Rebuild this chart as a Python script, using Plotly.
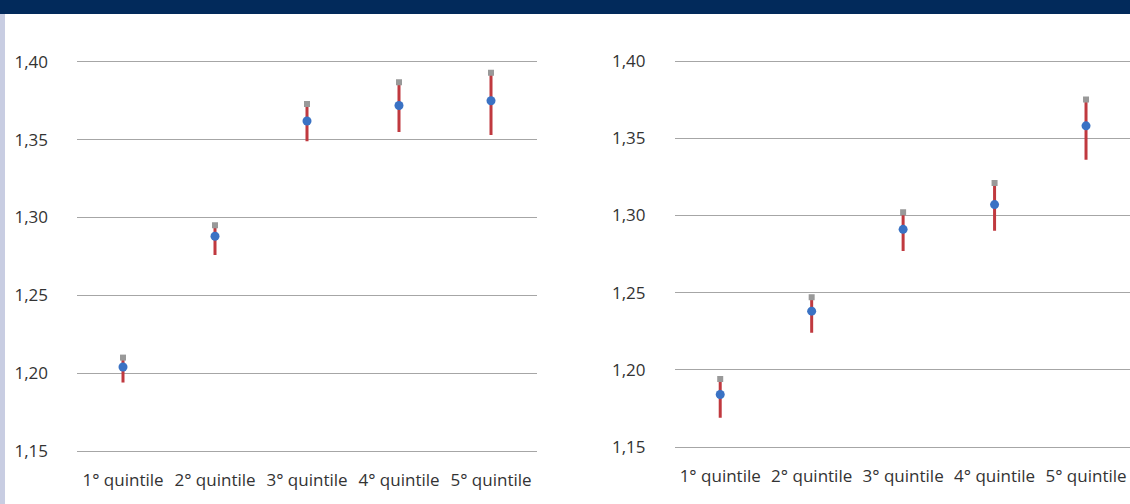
import plotly.graph_objects as go

categories = ["1° quintile", "2° quintile", "3° quintile", "4° quintile", "5° quintile"]
y_ticks = [1.15, 1.20, 1.25, 1.30, 1.35, 1.40]

left_mean = [1.204, 1.288, 1.362, 1.372, 1.375]
left_high = [1.210, 1.295, 1.373, 1.387, 1.393]
left_low = [1.194, 1.276, 1.349, 1.355, 1.353]

right_mean = [1.184, 1.238, 1.291, 1.307, 1.358]
right_high = [1.194, 1.247, 1.302, 1.321, 1.375]
right_low = [1.169, 1.224, 1.277, 1.290, 1.336]

W, H = 1130, 504
RED = "#c0393f"
BLUE = "#3a72c4"
GREY_MK = "#999999"
GRID = "#a6a6a6"
TXT = "#333333"
FONT = "Open Sans"

fig = go.Figure()

def add_panel(mean, high, low, xa, ya):
    plus = [h - m for h, m in zip(high, mean)]
    minus = [m - l for m, l in zip(mean, low)]
    fig.add_trace(go.Scatter(
        x=categories, y=mean, mode="markers", xaxis=xa, yaxis=ya,
        marker=dict(color=BLUE, size=9),
        error_y=dict(type="data", array=plus, arrayminus=minus, color=RED,
                     thickness=3, width=0, symmetric=False),
        showlegend=False, hoverinfo="y"))
    fig.add_trace(go.Scatter(
        x=categories, y=high, mode="markers", xaxis=xa, yaxis=ya,
        marker=dict(color=GREY_MK, size=6, symbol="square"),
        showlegend=False, hoverinfo="y"))

add_panel(left_mean, left_high, left_low, "x", "y")
add_panel(right_mean, right_high, right_low, "x2", "y2")

xcommon = dict(type="category", showgrid=False, zeroline=False, showline=True,
               linecolor=GRID, linewidth=1, ticks="", tickangle=0,
               tickfont=dict(family=FONT, size=17, color=TXT),
               ticklabelstandoff=14, automargin=False, fixedrange=True)
ycommon = dict(showgrid=True, gridcolor=GRID, gridwidth=1, zeroline=False,
               showline=False, tickvals=y_ticks, tickformat=".2f", ticks="",
               tickfont=dict(family=FONT, size=17, color=TXT),
               ticklabelstandoff=28, automargin=False, fixedrange=True)

fig.update_layout(
    width=W, height=H,
    margin=dict(l=0, r=0, t=0, b=0),
    paper_bgcolor="white", plot_bgcolor="white",
    separators=",.",
    font=dict(family=FONT, color=TXT),
    xaxis=dict(**xcommon, domain=[77 / W, 537 / W], range=[-0.5, 4.5], anchor="y"),
    yaxis=dict(**ycommon, domain=[(H - 451) / H, (H - 15.2) / H], range=[1.15, 1.43], anchor="x"),
    xaxis2=dict(**xcommon, domain=[674.5 / W, 1.0], range=[-0.5, 4.5 - 1.75 / 91.5], anchor="y2"),
    yaxis2=dict(**ycommon, domain=[(H - 447) / H, (H - 14.7) / H], range=[1.15, 1.43], anchor="x2"),
    shapes=[
        dict(type="rect", xref="paper", yref="paper", x0=0, x1=1,
             y0=(H - 14) / H, y1=1, fillcolor="#022a5b", line_width=0, layer="above"),
        dict(type="rect", xref="paper", yref="paper", x0=0, x1=5 / W,
             y0=0, y1=(H - 14) / H, fillcolor="#c8cde2", line_width=0, layer="above"),
    ],
)

fig.write_html(
    "out.html",
    config={"displayModeBar": False},
    post_script="document.body.style.margin='0';document.body.style.overflow='hidden';",
)
